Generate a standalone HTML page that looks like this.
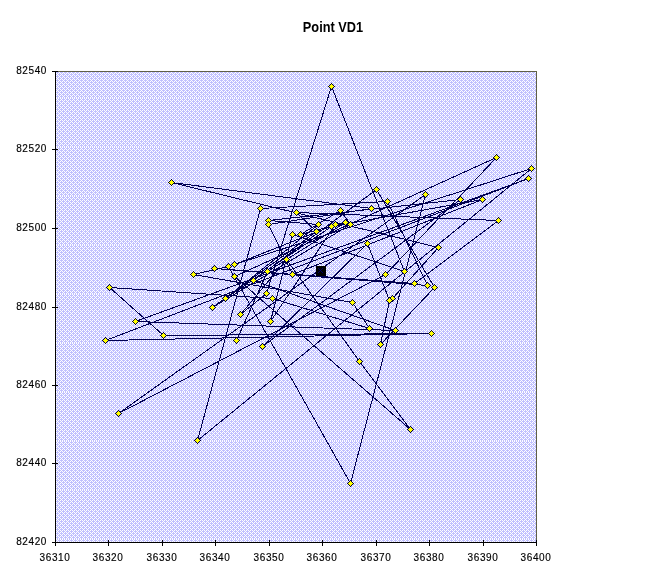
<!DOCTYPE html><html><head><meta charset="utf-8"><style>html,body{margin:0;padding:0;background:#fff;}svg{display:block;}</style></head><body><svg width="667" height="583" viewBox="0 0 667 583" font-family="Liberation Sans, sans-serif"><defs><pattern id="pat0" x="55" y="70" width="4" height="4" patternUnits="userSpaceOnUse"><rect width="4" height="4" fill="#c0c0ff"/><rect x="2" y="0" width="1" height="1" fill="#fff"/><rect x="1" y="1" width="1" height="1" fill="#fff"/><rect x="3" y="1" width="1" height="1" fill="#fff"/><rect x="0" y="2" width="1" height="1" fill="#fff"/><rect x="1" y="3" width="1" height="1" fill="#fff"/><rect x="3" y="3" width="1" height="1" fill="#fff"/></pattern><pattern id="pat1" x="55" y="71" width="4" height="4" patternUnits="userSpaceOnUse"><rect width="4" height="4" fill="#c0c0ff"/><rect x="2" y="0" width="1" height="1" fill="#fff"/><rect x="1" y="1" width="1" height="1" fill="#fff"/><rect x="3" y="1" width="1" height="1" fill="#fff"/><rect x="0" y="2" width="1" height="1" fill="#fff"/><rect x="1" y="3" width="1" height="1" fill="#fff"/><rect x="3" y="3" width="1" height="1" fill="#fff"/></pattern><pattern id="pat2" x="55" y="72" width="4" height="4" patternUnits="userSpaceOnUse"><rect width="4" height="4" fill="#c0c0ff"/><rect x="2" y="0" width="1" height="1" fill="#fff"/><rect x="1" y="1" width="1" height="1" fill="#fff"/><rect x="3" y="1" width="1" height="1" fill="#fff"/><rect x="0" y="2" width="1" height="1" fill="#fff"/><rect x="1" y="3" width="1" height="1" fill="#fff"/><rect x="3" y="3" width="1" height="1" fill="#fff"/></pattern><pattern id="pat3" x="55" y="73" width="4" height="4" patternUnits="userSpaceOnUse"><rect width="4" height="4" fill="#c0c0ff"/><rect x="2" y="0" width="1" height="1" fill="#fff"/><rect x="1" y="1" width="1" height="1" fill="#fff"/><rect x="3" y="1" width="1" height="1" fill="#fff"/><rect x="0" y="2" width="1" height="1" fill="#fff"/><rect x="1" y="3" width="1" height="1" fill="#fff"/><rect x="3" y="3" width="1" height="1" fill="#fff"/></pattern><pattern id="pat4" x="55" y="74" width="4" height="4" patternUnits="userSpaceOnUse"><rect width="4" height="4" fill="#c0c0ff"/><rect x="2" y="0" width="1" height="1" fill="#fff"/><rect x="1" y="1" width="1" height="1" fill="#fff"/><rect x="3" y="1" width="1" height="1" fill="#fff"/><rect x="0" y="2" width="1" height="1" fill="#fff"/><rect x="1" y="3" width="1" height="1" fill="#fff"/><rect x="3" y="3" width="1" height="1" fill="#fff"/></pattern><pattern id="pat5" x="55" y="75" width="4" height="4" patternUnits="userSpaceOnUse"><rect width="4" height="4" fill="#c0c0ff"/><rect x="2" y="0" width="1" height="1" fill="#fff"/><rect x="1" y="1" width="1" height="1" fill="#fff"/><rect x="3" y="1" width="1" height="1" fill="#fff"/><rect x="0" y="2" width="1" height="1" fill="#fff"/><rect x="1" y="3" width="1" height="1" fill="#fff"/><rect x="3" y="3" width="1" height="1" fill="#fff"/></pattern><pattern id="pat6" x="55" y="76" width="4" height="4" patternUnits="userSpaceOnUse"><rect width="4" height="4" fill="#c0c0ff"/><rect x="2" y="0" width="1" height="1" fill="#fff"/><rect x="1" y="1" width="1" height="1" fill="#fff"/><rect x="3" y="1" width="1" height="1" fill="#fff"/><rect x="0" y="2" width="1" height="1" fill="#fff"/><rect x="1" y="3" width="1" height="1" fill="#fff"/><rect x="3" y="3" width="1" height="1" fill="#fff"/></pattern><pattern id="pat7" x="55" y="77" width="4" height="4" patternUnits="userSpaceOnUse"><rect width="4" height="4" fill="#c0c0ff"/><rect x="2" y="0" width="1" height="1" fill="#fff"/><rect x="1" y="1" width="1" height="1" fill="#fff"/><rect x="3" y="1" width="1" height="1" fill="#fff"/><rect x="0" y="2" width="1" height="1" fill="#fff"/><rect x="1" y="3" width="1" height="1" fill="#fff"/><rect x="3" y="3" width="1" height="1" fill="#fff"/></pattern><pattern id="pat8" x="55" y="78" width="4" height="4" patternUnits="userSpaceOnUse"><rect width="4" height="4" fill="#c0c0ff"/><rect x="2" y="0" width="1" height="1" fill="#fff"/><rect x="1" y="1" width="1" height="1" fill="#fff"/><rect x="3" y="1" width="1" height="1" fill="#fff"/><rect x="0" y="2" width="1" height="1" fill="#fff"/><rect x="1" y="3" width="1" height="1" fill="#fff"/><rect x="3" y="3" width="1" height="1" fill="#fff"/></pattern><pattern id="pat9" x="55" y="79" width="4" height="4" patternUnits="userSpaceOnUse"><rect width="4" height="4" fill="#c0c0ff"/><rect x="2" y="0" width="1" height="1" fill="#fff"/><rect x="1" y="1" width="1" height="1" fill="#fff"/><rect x="3" y="1" width="1" height="1" fill="#fff"/><rect x="0" y="2" width="1" height="1" fill="#fff"/><rect x="1" y="3" width="1" height="1" fill="#fff"/><rect x="3" y="3" width="1" height="1" fill="#fff"/></pattern><pattern id="pat10" x="55" y="80" width="4" height="4" patternUnits="userSpaceOnUse"><rect width="4" height="4" fill="#c0c0ff"/><rect x="2" y="0" width="1" height="1" fill="#fff"/><rect x="1" y="1" width="1" height="1" fill="#fff"/><rect x="3" y="1" width="1" height="1" fill="#fff"/><rect x="0" y="2" width="1" height="1" fill="#fff"/><rect x="1" y="3" width="1" height="1" fill="#fff"/><rect x="3" y="3" width="1" height="1" fill="#fff"/></pattern></defs><rect x="0" y="0" width="667" height="583" fill="#fff"/><rect x="55" y="71" width="481" height="27" fill="url(#pat0)" shape-rendering="crispEdges"/><rect x="55" y="98" width="481" height="49" fill="url(#pat1)" shape-rendering="crispEdges"/><rect x="55" y="147" width="481" height="49" fill="url(#pat2)" shape-rendering="crispEdges"/><rect x="55" y="196" width="481" height="49" fill="url(#pat3)" shape-rendering="crispEdges"/><rect x="55" y="245" width="481" height="49" fill="url(#pat4)" shape-rendering="crispEdges"/><rect x="55" y="294" width="481" height="49" fill="url(#pat5)" shape-rendering="crispEdges"/><rect x="55" y="343" width="481" height="49" fill="url(#pat6)" shape-rendering="crispEdges"/><rect x="55" y="392" width="481" height="49" fill="url(#pat7)" shape-rendering="crispEdges"/><rect x="55" y="441" width="481" height="49" fill="url(#pat8)" shape-rendering="crispEdges"/><rect x="55" y="490" width="481" height="49" fill="url(#pat9)" shape-rendering="crispEdges"/><rect x="55" y="539" width="481" height="3" fill="url(#pat10)" shape-rendering="crispEdges"/><path d="M55 71.5H536.5V542" stroke="#606048" stroke-width="1" fill="none" shape-rendering="crispEdges"/><path d="M331.5 86.5L266.5 293.5M331.5 86.5L404.5 271.5M404.5 271.5L292.5 234.5M171.5 182.5L371.5 208.5M171.5 182.5L438.5 247.5M438.5 247.5L392.5 298.5M340.5 210.5L300.5 234.5M482.5 199.5L331.5 226.5M109.5 287.5L163.5 335.5M163.5 335.5L431.5 333.5M431.5 333.5L105.5 340.5M105.5 340.5L528.5 178.5M528.5 178.5L135.5 321.5M135.5 321.5L395.5 330.5M197.5 440.5L260.5 208.5M197.5 440.5L531.5 168.5M260.5 208.5L387.5 201.5M387.5 201.5L427.5 285.5M414.5 283.5L498.5 220.5M376.5 189.5L434.5 287.5M434.5 287.5L380.5 344.5M380.5 344.5L389.5 300.5M389.5 300.5L367.5 243.5M496.5 157.5L385.5 274.5M385.5 274.5L118.5 413.5M350.5 483.5L425.5 194.5M118.5 413.5L425.5 194.5M410.5 429.5L359.5 361.5M359.5 361.5L286.5 259.5M410.5 429.5L234.5 276.5M350.5 483.5L228.5 266.5M193.5 274.5L352.5 302.5M109.5 287.5L272.5 298.5M369.5 328.5L352.5 302.5M369.5 328.5L272.5 298.5M367.5 243.5L262.5 346.5M262.5 346.5L460.5 199.5M240.5 314.5L286.5 259.5M236.5 340.5L267.5 271.5M268.5 220.5L460.5 199.5M268.5 224.5L371.5 208.5M268.5 224.5L292.5 274.5M427.5 285.5L214.5 268.5M414.5 283.5L214.5 268.5M270.5 321.5L292.5 234.5M498.5 220.5L296.5 212.5M496.5 157.5L234.5 276.5M531.5 168.5L234.5 264.5M193.5 274.5L228.5 266.5M376.5 189.5L253.5 280.5M270.5 321.5L335.5 224.5M395.5 330.5L253.5 280.5M292.5 274.5L482.5 199.5M212.5 307.5L350.5 224.5M212.5 307.5L316.5 231.5M225.5 298.5L331.5 226.5M225.5 298.5L318.5 224.5M335.5 224.5L234.5 264.5M345.5 222.5L267.5 271.5M296.5 212.5L316.5 231.5M340.5 210.5L350.5 224.5M268.5 220.5L318.5 224.5M266.5 293.5L240.5 314.5M345.5 222.5L300.5 234.5" stroke="#000050" stroke-width="1" fill="none" shape-rendering="crispEdges"/><defs><g id="mk" shape-rendering="crispEdges"><rect x="0" y="-3" width="1" height="1" fill="#000040"/><rect x="-1" y="-2" width="1" height="1" fill="#000040"/><rect x="0" y="-2" width="1" height="1" fill="#ffff00"/><rect x="1" y="-2" width="1" height="1" fill="#000040"/><rect x="-2" y="-1" width="1" height="1" fill="#000040"/><rect x="-1" y="-1" width="3" height="1" fill="#ffff00"/><rect x="2" y="-1" width="1" height="1" fill="#000040"/><rect x="-3" y="0" width="1" height="1" fill="#000040"/><rect x="-2" y="0" width="5" height="1" fill="#ffff00"/><rect x="3" y="0" width="1" height="1" fill="#000040"/><rect x="-2" y="1" width="1" height="1" fill="#000040"/><rect x="-1" y="1" width="3" height="1" fill="#ffff00"/><rect x="2" y="1" width="1" height="1" fill="#000040"/><rect x="-1" y="2" width="1" height="1" fill="#000040"/><rect x="0" y="2" width="1" height="1" fill="#ffff00"/><rect x="1" y="2" width="1" height="1" fill="#000040"/><rect x="0" y="3" width="1" height="1" fill="#000040"/></g></defs><use href="#mk" x="331" y="86"/><use href="#mk" x="171" y="182"/><use href="#mk" x="496" y="157"/><use href="#mk" x="531" y="168"/><use href="#mk" x="528" y="178"/><use href="#mk" x="376" y="189"/><use href="#mk" x="425" y="194"/><use href="#mk" x="460" y="199"/><use href="#mk" x="482" y="199"/><use href="#mk" x="387" y="201"/><use href="#mk" x="371" y="208"/><use href="#mk" x="340" y="210"/><use href="#mk" x="296" y="212"/><use href="#mk" x="260" y="208"/><use href="#mk" x="268" y="220"/><use href="#mk" x="268" y="224"/><use href="#mk" x="498" y="220"/><use href="#mk" x="318" y="224"/><use href="#mk" x="335" y="224"/><use href="#mk" x="331" y="226"/><use href="#mk" x="345" y="222"/><use href="#mk" x="350" y="224"/><use href="#mk" x="316" y="231"/><use href="#mk" x="292" y="234"/><use href="#mk" x="300" y="234"/><use href="#mk" x="367" y="243"/><use href="#mk" x="438" y="247"/><use href="#mk" x="286" y="259"/><use href="#mk" x="214" y="268"/><use href="#mk" x="228" y="266"/><use href="#mk" x="234" y="264"/><use href="#mk" x="267" y="271"/><use href="#mk" x="404" y="271"/><use href="#mk" x="385" y="274"/><use href="#mk" x="292" y="274"/><use href="#mk" x="193" y="274"/><use href="#mk" x="234" y="276"/><use href="#mk" x="253" y="280"/><use href="#mk" x="414" y="283"/><use href="#mk" x="427" y="285"/><use href="#mk" x="434" y="287"/><use href="#mk" x="109" y="287"/><use href="#mk" x="266" y="293"/><use href="#mk" x="272" y="298"/><use href="#mk" x="225" y="298"/><use href="#mk" x="392" y="298"/><use href="#mk" x="389" y="300"/><use href="#mk" x="352" y="302"/><use href="#mk" x="212" y="307"/><use href="#mk" x="240" y="314"/><use href="#mk" x="270" y="321"/><use href="#mk" x="135" y="321"/><use href="#mk" x="369" y="328"/><use href="#mk" x="395" y="330"/><use href="#mk" x="431" y="333"/><use href="#mk" x="105" y="340"/><use href="#mk" x="163" y="335"/><use href="#mk" x="236" y="340"/><use href="#mk" x="380" y="344"/><use href="#mk" x="262" y="346"/><use href="#mk" x="359" y="361"/><use href="#mk" x="118" y="413"/><use href="#mk" x="410" y="429"/><use href="#mk" x="197" y="440"/><use href="#mk" x="350" y="483"/><rect x="316" y="266" width="10" height="10" fill="#000"/><g shape-rendering="crispEdges" fill="#000060"><rect x="318" y="268" width="1" height="1"/><rect x="319" y="269" width="1" height="1"/><rect x="320" y="270" width="1" height="1"/><rect x="321" y="271" width="1" height="1"/><rect x="322" y="272" width="1" height="1"/><rect x="322" y="268" width="1" height="1"/><rect x="321" y="269" width="1" height="1"/><rect x="319" y="271" width="1" height="1"/><rect x="318" y="272" width="1" height="1"/></g><path d="M55.5 71V542.5H536" stroke="#000" stroke-width="1" fill="none" shape-rendering="crispEdges"/><path d="M52 71.5H58M52 149.5H58M52 228.5H58M52 307.5H58M52 385.5H58M52 463.5H58M52 542.5H58M55.5 540V546M108.5 540V546M162.5 540V546M215.5 540V546M269.5 540V546M322.5 540V546M376.5 540V546M429.5 540V546M483.5 540V546M536.5 540V546" stroke="#000" stroke-width="1" fill="none" shape-rendering="crispEdges"/><g style="will-change:transform"><text x="47" y="73.8" text-anchor="end" font-size="10" letter-spacing="0.6" stroke="#000" stroke-width="0.15">82540</text><text x="47" y="151.8" text-anchor="end" font-size="10" letter-spacing="0.6" stroke="#000" stroke-width="0.15">82520</text><text x="47" y="230.8" text-anchor="end" font-size="10" letter-spacing="0.6" stroke="#000" stroke-width="0.15">82500</text><text x="47" y="309.8" text-anchor="end" font-size="10" letter-spacing="0.6" stroke="#000" stroke-width="0.15">82480</text><text x="47" y="387.8" text-anchor="end" font-size="10" letter-spacing="0.6" stroke="#000" stroke-width="0.15">82460</text><text x="47" y="465.8" text-anchor="end" font-size="10" letter-spacing="0.6" stroke="#000" stroke-width="0.15">82440</text><text x="47" y="544.8" text-anchor="end" font-size="10" letter-spacing="0.6" stroke="#000" stroke-width="0.15">82420</text><text x="55" y="560.5" text-anchor="middle" font-size="10" letter-spacing="0.6" stroke="#000" stroke-width="0.15">36310</text><text x="108" y="560.5" text-anchor="middle" font-size="10" letter-spacing="0.6" stroke="#000" stroke-width="0.15">36320</text><text x="162" y="560.5" text-anchor="middle" font-size="10" letter-spacing="0.6" stroke="#000" stroke-width="0.15">36330</text><text x="215" y="560.5" text-anchor="middle" font-size="10" letter-spacing="0.6" stroke="#000" stroke-width="0.15">36340</text><text x="269" y="560.5" text-anchor="middle" font-size="10" letter-spacing="0.6" stroke="#000" stroke-width="0.15">36350</text><text x="322" y="560.5" text-anchor="middle" font-size="10" letter-spacing="0.6" stroke="#000" stroke-width="0.15">36360</text><text x="376" y="560.5" text-anchor="middle" font-size="10" letter-spacing="0.6" stroke="#000" stroke-width="0.15">36370</text><text x="429" y="560.5" text-anchor="middle" font-size="10" letter-spacing="0.6" stroke="#000" stroke-width="0.15">36380</text><text x="483" y="560.5" text-anchor="middle" font-size="10" letter-spacing="0.6" stroke="#000" stroke-width="0.15">36390</text><text x="536" y="560.5" text-anchor="middle" font-size="10" letter-spacing="0.6" stroke="#000" stroke-width="0.15">36400</text><text x="0" y="0" transform="translate(333,32) scale(0.9,1)" text-anchor="middle" font-size="14.2" font-weight="bold" letter-spacing="0">Point VD1</text></g></svg></body></html>
